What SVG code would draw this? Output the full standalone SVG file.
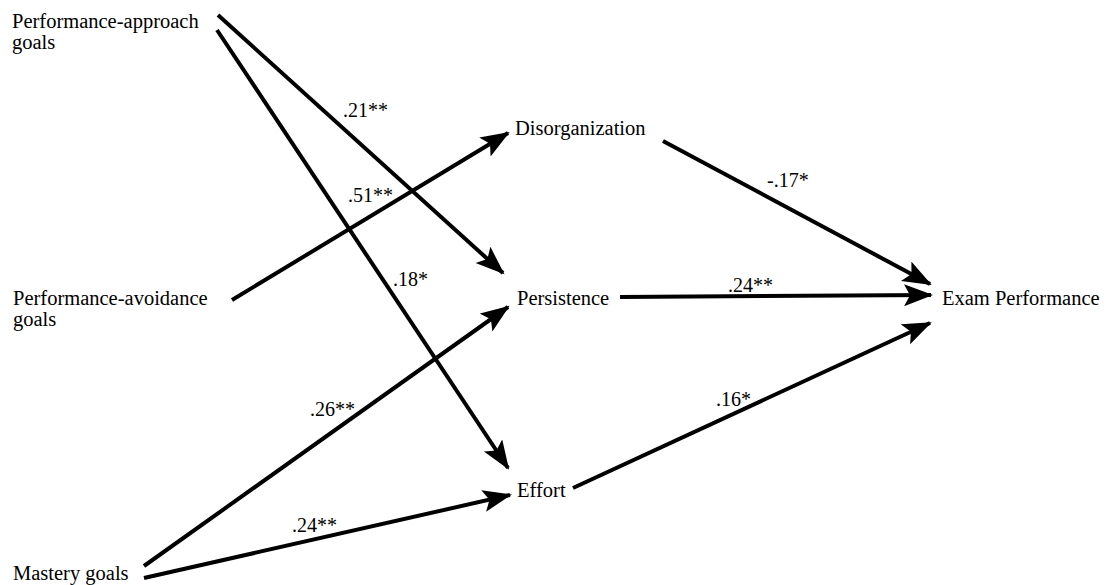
<svg xmlns="http://www.w3.org/2000/svg" width="1109" height="585" viewBox="0 0 1109 585">
<style>
text{font-family:"Liberation Serif","Tinos","Times New Roman","DejaVu Serif",serif;font-size:20.5px;fill:#000}
.lbl{font-size:20px}
.edge{stroke:#000;stroke-width:4;fill:none;marker-end:url(#ah)}
</style>
<defs>
<marker id="ah" markerUnits="userSpaceOnUse" markerWidth="32" markerHeight="24" refX="27" refY="11" orient="auto">
<path d="M0,0 L29,11 L0,22 L6,11 Z" fill="#000"/>
</marker>
</defs>
<rect width="1109" height="585" fill="#fff"/>
<g id="connectors">
<line class="edge" x1="218" y1="15" x2="503" y2="273"/>
<line class="edge" x1="217" y1="30" x2="508" y2="468"/>
<line class="edge" x1="232" y1="300" x2="508" y2="133"/>
<line class="edge" x1="144" y1="566" x2="508" y2="307"/>
<line class="edge" x1="144" y1="578" x2="510" y2="495"/>
<line class="edge" x1="663" y1="141" x2="930" y2="284"/>
<line class="edge" x1="620" y1="297" x2="931" y2="295"/>
<line class="edge" x1="573" y1="488" x2="930" y2="323"/>
</g>
<g id="edge-labels">
<text class="lbl" x="343" y="117">.21**</text>
<text class="lbl" x="348" y="202">.51**</text>
<text class="lbl" x="393" y="286">.18*</text>
<text class="lbl" x="767" y="187">-.17*</text>
<text class="lbl" x="728" y="292">.24**</text>
<text class="lbl" x="310" y="416">.26**</text>
<text class="lbl" x="716" y="406">.16*</text>
<text class="lbl" x="292" y="532">.24**</text>
</g>
<g id="perf-approach"><text x="12" y="28">Performance-approach</text><text x="12" y="49">goals</text></g>
<g id="perf-avoidance"><text x="13" y="305">Performance-avoidance</text><text x="13" y="326">goals</text></g>
<g id="mastery"><text x="13" y="580">Mastery goals</text></g>
<g id="disorganization"><text x="515" y="135">Disorganization</text></g>
<g id="persistence"><text x="517" y="305">Persistence</text></g>
<g id="effort"><text x="517" y="497">Effort</text></g>
<g id="exam"><text x="942" y="305">Exam Performance</text></g>
</svg>
